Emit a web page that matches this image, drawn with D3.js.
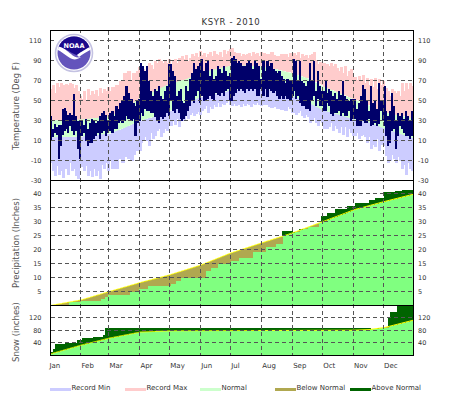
<!DOCTYPE html>
<html><head><meta charset="utf-8">
<script src="https://cdn.jsdelivr.net/npm/d3@7"></script>
<style>html,body{margin:0;padding:0;background:#fff}svg{display:block}text{font-family:"DejaVu Sans",sans-serif;fill:#333}</style>
</head><body><svg id="c" width="463" height="395"></svg>
<script>
const title = "KSYR - 2010";
const months = ["Jan","Feb","Mar","Apr","May","Jun","Jul","Aug","Sep","Oct","Nov","Dec"];
const monthLengths = [31,28,31,30,31,30,31,31,30,31,30,31];
const tempTicks = [-30,-10,10,30,50,70,90,110];
const precipTicks = [5,10,15,20,25,30,35,40];
const snowTicks = [40,80,120];

// readings grouped by month
const recordMax = [
 [62,66,58,68,64,68,66,62,67,66,68,67,63,66,60,55],
 [52,60,50,62,56,60,57,61,55,63,58,62,60,64],
 [60,64,58,66,62,70,68,78,72,80,70,78,74,80,84],
 [80,82,78,85,88,86,82,90,88,92,90,88,91,88,92],
 [85,90,92,88,93,90,95,92,96,90,93,97,95,98,94,100],
 [96,98,94,97,99,95,100,97,96,99,94,101,97,100,102],
 [103,99,98,96,98,95,97,96,97,98,95,99,97,98,95,99],
 [98,96,97,95,99,96,94,95,92,97,94,97,94,98,96],
 [98,96,99,93,97,95,96,93,96,97,99,91,87,89,88],
 [88,86,87,85,88,85,87,83,80,84,78,85,75,80,82,74],
 [74,71,75,70,76,68,73,66,72,64,73,62,72,66,70],
 [62,63,60,55,62,60,58,60,55,68,60,68,62,68,65,60]];
const recordMin = [
 [-12,-20,-25,-15,-24,-20,-27,-18,-16,-24,-12,-20,-18,-25,-28,-14],
 [-16,-20,-15,-25,-20,-26,-18,-25,-20,-28,-14,-18,-12,-20],
 [-10,-18,-10,-18,-8,-4,-12,0,-6,-8,-10,-4,0,5,0],
 [8,10,14,10,5,18,12,15,20,22,14,18,22,20,25],
 [25,30,26,32,24,30,34,30,35,32,36,38,35,37,39,36],
 [40,42,45,38,44,42,46,44,48,44,47,46,48,50,46],
 [45,47,45,46,48,44,47,45,47,46,44,47,46,48,46,45],
 [46,48,46,44,43,46,44,42,45,41,43,40,44,42,38],
 [40,36,38,40,35,33,36,34,28,30,33,28,25,30,28],
 [22,26,22,24,28,20,25,22,18,24,16,24,14,22,18,15],
 [15,18,12,15,16,14,8,14,2,6,4,12,0,6,8],
 [5,-5,-12,-10,-4,-8,-12,-6,-10,-18,-14,-24,-12,-18,-20,-25]];
const obsHigh = [
 [35,22,27,24,26,26,42,43,40,36,38,36,57,35,30,30],
 [30,26,32,22,28,32,30,28,30,35,38,40,36,30],
 [38,40,35,45,42,48,50,55,65,58,52,48,45,50,52],
 [88,85,80,85,70,60,55,62,60,65,55,52,60,65,87],
 [87,80,75,55,60,62,50,48,65,60,72,78,88,82,85,88],
 [92,80,88,90,75,82,72,75,85,82,78,85,80,75,78],
 [93,95,92,88,90,88,85,85,88,90,88,82,90,88,85,72],
 [90,80,90,85,88,82,80,78,80,75,72,68,72,70,68],
 [92,90,70,90,70,68,65,70,88,70,90,60,80,65,60],
 [60,70,58,62,60,55,58,52,60,56,70,55,52,50,52,52],
 [52,42,48,55,66,62,50,40,65,48,50,42,68,50,50],
 [65,40,35,40,58,45,30,38,35,38,32,40,35,30,40,55]];
const obsLow = [
 [10,14,18,16,-8,5,16,20,22,18,25,20,16,20,2,-8],
 [15,18,10,5,8,8,12,15,18,12,18,20,15,18],
 [20,18,22,22,28,30,28,30,35,32,30,32,15,28,30],
 [38,35,42,40,40,38,38,34,30,28,34,32,34,38,35],
 [50,40,38,42,38,32,30,32,35,40,45,50,48,55,60,48],
 [55,50,50,52,55,52,50,58,56,55,58,55,60,62,50],
 [50,55,58,62,60,62,60,58,62,60,62,60,62,55,55,62],
 [55,62,54,62,60,58,60,55,52,55,52,55,52,50,55],
 [60,52,55,48,45,45,42,42,40,50,55,45,52,45,45],
 [40,40,48,45,37,35,38,38,40,35,38,35,35,40,30,32],
 [32,25,25,25,30,28,28,32,25,26,28,25,27,40,30],
 [25,15,5,8,20,22,2,15,25,22,18,15,15,12,15,15]];

const normalDays = [0,31,59,75,90,105,120,135,151,181,196,212,227,243,258,273,288,304,319,334,364];
const normalLow  = [13,14,17,23,30,34,40,46,54,60,62,62,60,54,48,40,36,31,28,22,12];
const normalHigh = [30,31,34,42,53,60,67,71,78,85,85,84,81,77,72,64,58,51,45,38,32];

const precipNormalDays = [0,31,59,90,120,151,181,212,243,273,304,334,364];
const precipNormal = [0,2,5,8.2,11,14.5,18.8,22.4,26,30,34.2,37.1,39.8];
const precipObsDays = [0,18,30,50,54,57,79,88,97,113,120,125,130,155,160,167,180,188,202,215,225,232,242,249,257,268,271,277,285,297,305,319,325,334,345,352];
const precipObs = [0.2,1.2,1.7,2.2,3,3.6,5,6,6.8,7,7.6,8.9,9.7,12.2,13.3,15,16,16.8,19,20.9,21.8,26.7,26.3,27.3,28.2,29.5,32.1,33,34.5,35.6,36.5,37.7,38.5,40.6,41,41.4];

const snowNormalDays = [0,31,59,90,120,304,319,334,364];
const snowNormal = [5,33,55,74,78,80,82,88,112];
const snowObsDays = [0,3,5,15,27,32,43,53,55,320,327,338,340,347];
const snowObs = [10,22,36,40,48,55,60,65,88,84,88,120,136,165];

const legendLabels = ["Record Min","Record Max","Normal","Below Normal","Above Normal"];
const legendColors = ["#ccccff","#ffcccc","#ccffcc","#b0a850","#006400"];

const svg = d3.select("#c");
const x = d3.scaleLinear().domain([0,364]).range([50.5,414]);
const yT = d3.scaleLinear().domain([-30,110]).range([180.5,40.5]);
const yP = d3.scaleLinear().domain([0,40]).range([305.5,193.5]);
const yS = d3.scaleLinear().domain([0,120]).range([355.5,317.5]);
const monthStarts = d3.cumsum([0].concat(monthLengths)).slice(0,12);
const nLo = d3.scaleLinear().domain(normalDays).range(normalLow);
const nHi = d3.scaleLinear().domain(normalDays).range(normalHigh);
const allDays = d3.range(0,364);

function flat(hi,lo){
  const out=[];
  hi.forEach((arr,m)=>{const st=monthLengths[m]/arr.length;
    arr.forEach((v,j)=>out.push({d:monthStarts[m]+j*st,w:st,hi:v,lo:lo[m][j]}));});
  return out;
}
const rec = flat(recordMax,recordMin), obs = flat(obsHigh,obsLow);
const clip=(id,y0,y1)=>svg.append("clipPath").attr("id",id).append("rect").attr("x",50.5).attr("y",y0).attr("width",363).attr("height",y1-y0);
clip("cT",30.5,180.5);clip("cP",180.5,305.5);clip("cS",305.5,355.5);

const gT = svg.append("g").attr("clip-path","url(#cT)");
const bar=(g,data,col,xf,wf,top,bot)=>g.append("g").attr("shape-rendering","crispEdges").selectAll("rect").data(data).join("rect")
  .attr("x",d=>Math.floor(xf(d))).attr("width",wf).attr("y",top).attr("height",d=>Math.max(0,bot(d)-top(d))).attr("fill",col);
bar(gT,rec,"#ffcccc",d=>x(d.d),d=>Math.ceil(d.w)+1,d=>yT(d.hi),d=>yT(nHi(d.d)));
bar(gT,rec,"#ccccff",d=>x(d.d),d=>Math.ceil(d.w)+1,d=>yT(nLo(d.d)),d=>yT(d.lo));
gT.append("path").datum(allDays).attr("fill","#ccffcc")
  .attr("d",d3.area().x(d=>x(d)).y0(d=>yT(nLo(d))).y1(d=>yT(nHi(d))));
bar(gT,obs,"#00006a",d=>x(d.d),d=>Math.ceil(d.w),d=>yT(d.hi),d=>yT(d.lo));

function cumulative(gid,y,normDays,normVals,obsDays,obsVals){
  const g = svg.append("g").attr("clip-path",`url(#${gid})`);
  const nf = d3.scaleLinear().domain(normDays).range(normVals);
  const of = d=>obsVals[Math.max(0,d3.bisectRight(obsDays,d)-1)];
  const days = allDays.map(d=>({d,n:nf(d),o:of(d)}));
  bar(g,days,"#80ff80",d=>x(d.d),2,d=>y(Math.min(d.n,d.o)),()=>y(0));
  bar(g,days,"#b0a850",d=>x(d.d),2,d=>y(d.n),d=>d.o<d.n?y(d.o):y(d.n));
  bar(g,days,"#006400",d=>x(d.d),2,d=>d.o>d.n?y(d.o):y(d.n),d=>y(d.n));
  g.append("path").datum(days).attr("fill","none").attr("stroke","#ffff00").attr("stroke-width",1)
    .attr("d",d3.line().x(d=>x(d.d)).y(d=>y(d.n)));
}
cumulative("cP",yP,precipNormalDays,precipNormal,precipObsDays,precipObs);
cumulative("cS",yS,snowNormalDays,snowNormal,snowObsDays,snowObs);

const grid = svg.append("g").attr("stroke","#555").attr("stroke-width",1).attr("stroke-dasharray","4,3").attr("fill","none").attr("shape-rendering","crispEdges");
const hl=(v,s)=>grid.append("line").attr("x1",50.5).attr("x2",413.5).attr("y1",Math.floor(s(v))+.5).attr("y2",Math.floor(s(v))+.5);
tempTicks.filter(t=>t>-30).forEach(t=>hl(t,yT));
precipTicks.forEach(t=>hl(t,yP));
snowTicks.forEach(t=>hl(t,yS));
monthStarts.slice(1).forEach(s=>{const px=Math.floor(x(s))-.5;
  grid.append("line").attr("x1",px).attr("x2",px).attr("y1",30.5).attr("y2",355.5);});

// logo
const logo = svg.append("g");
logo.append("rect").attr("x",54).attr("y",33).attr("width",40).attr("height",41).attr("fill","#fff");
const lg = logo.append("g").attr("transform","translate(74,53)");
lg.append("circle").attr("r",18.5).attr("fill","#fff").attr("stroke","#c4c2e2").attr("stroke-width",1.6);
lg.append("clipPath").attr("id","lc").append("circle").attr("r",16.5);
const li = lg.append("g").attr("clip-path","url(#lc)");
li.append("rect").attr("x",-18).attr("y",-18).attr("width",36).attr("height",36).attr("fill","#6454bc");
li.append("path").attr("d","M-18,-18H18V-7C12,-4 7,-1 3,2C-2,1 -8,-5 -18,-7Z").attr("fill","#1a0a8c");
li.append("path").attr("d","M-18,-7C-10,-6 -7,-2 -3,1C0,4 3,5 7,4C3,7 -1,7 -4,5C-9,2 -13,-2 -18,-4Z").attr("fill","#fff");
li.append("path").attr("d","M3,2C7,-1 12,-4 18,-7V-4C12,-1 9,1 5,4Z").attr("fill","#fff");
lg.append("text").attr("y",-5).attr("text-anchor","middle").style("fill","#fff").style("font-weight","bold").style("font-size","6.5px").text("NOAA");

const fr = svg.append("g").attr("stroke","#000").attr("stroke-width",1).attr("fill","none").attr("shape-rendering","crispEdges");
fr.append("rect").attr("x",50.5).attr("y",30.5).attr("width",363).attr("height",150);
fr.append("rect").attr("x",50.5).attr("y",180.5).attr("width",363).attr("height",125);
fr.append("rect").attr("x",50.5).attr("y",305.5).attr("width",363).attr("height",50);

const label=(px,py,t,anchor,size)=>svg.append("text").attr("x",px).attr("y",py).attr("text-anchor",anchor||"start").style("font-size",(size||6.5)+"px").text(t);
const both=(t,py)=>{label(41.5,py+2.5,t,"end");label(418,py+2.5,t,"start");};
tempTicks.forEach(t=>both(t,yT(t)));
precipTicks.forEach(t=>both(t,yP(t)));
snowTicks.forEach(t=>both(t,yS(t)));
label(231,25,title,"middle",8.5).style("letter-spacing",".6px");
const vert=(px,py,t)=>svg.append("text").attr("transform",`translate(${px},${py}) rotate(-90)`).attr("text-anchor","middle").style("font-size","8.5px").style("fill","#555").text(t);
vert(19,106,"Temperature (Deg F)");
vert(19,243,"Precipitation (Inches)");
vert(19,332,"Snow (inches)");
months.forEach((m,i)=>label(x(monthStarts[i])+(i?0:-1),368,m,"start",7));
legendLabels.forEach((t,i)=>{const lx=50+75*i;
  svg.append("rect").attr("x",lx).attr("y",388).attr("width",21).attr("height",3).attr("fill",legendColors[i]);
  label(lx+21.5,390,t,"start",7);});
</script></body></html>
